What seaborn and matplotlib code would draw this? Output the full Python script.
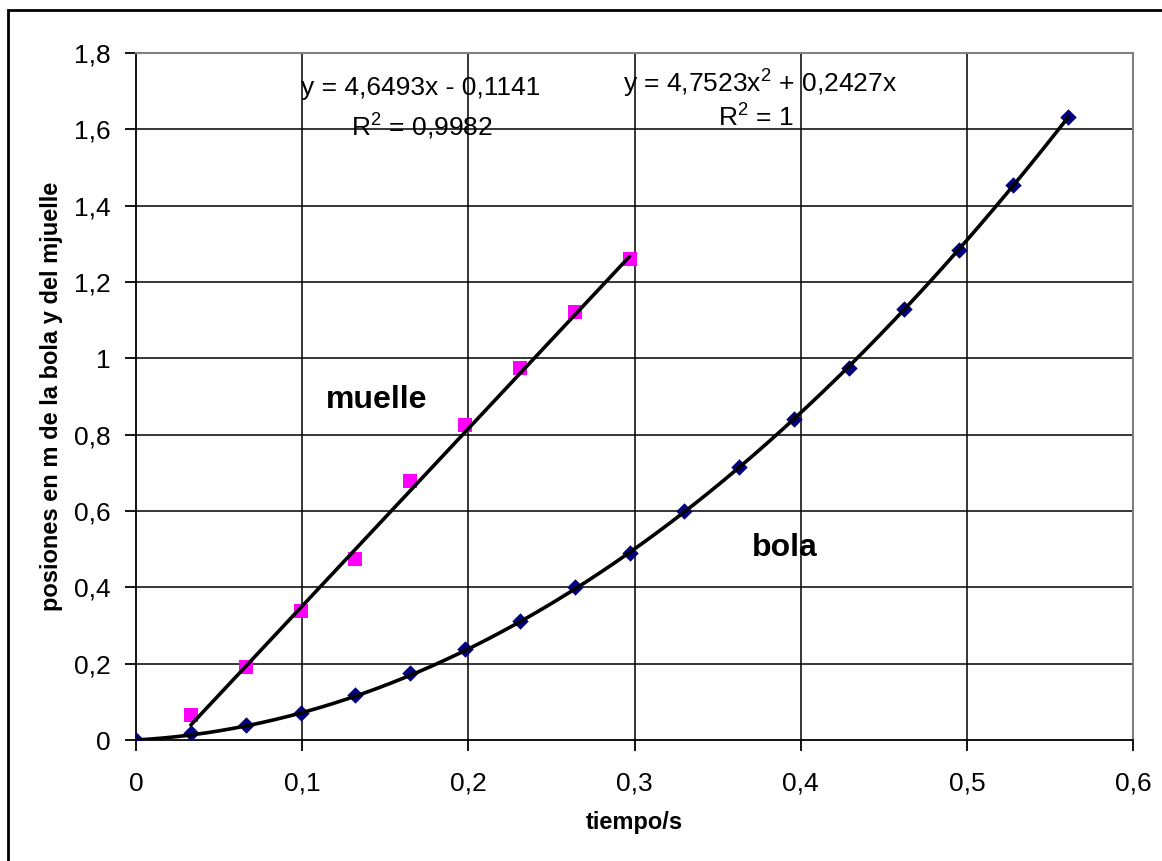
import numpy as np
import pandas as pd
import matplotlib
matplotlib.use("Agg")
import matplotlib.pyplot as plt
import seaborn as sns
from matplotlib.patches import Rectangle

# ---- data ----
t_bola = [0.0, 0.033, 0.066, 0.099, 0.132, 0.165, 0.198, 0.231, 0.264, 0.297,
          0.330, 0.363, 0.396, 0.429, 0.462, 0.495, 0.528, 0.561]
y_bola = [0.0, 0.018, 0.040, 0.070, 0.117, 0.175, 0.238, 0.312, 0.400, 0.490,
          0.600, 0.715, 0.840, 0.975, 1.128, 1.285, 1.455, 1.632]
t_muelle = [0.033, 0.066, 0.099, 0.132, 0.165, 0.198, 0.231, 0.264, 0.297]
y_muelle = [0.065, 0.190, 0.338, 0.474, 0.679, 0.825, 0.975, 1.122, 1.260]
lin_coef = [4.6493, -0.1141]          # muelle trendline
poly_coef = [4.7523, 0.2427, 0.0]     # bola trendline
x_ticks = [0, 0.1, 0.2, 0.3, 0.4, 0.5, 0.6]
x_tick_labels = ["0", "0,1", "0,2", "0,3", "0,4", "0,5", "0,6"]
y_ticks = [0, 0.2, 0.4, 0.6, 0.8, 1.0, 1.2, 1.4, 1.6, 1.8]
y_tick_labels = ["0", "0,2", "0,4", "0,6", "0,8", "1", "1,2", "1,4", "1,6", "1,8"]

sns.set_style("white")
plt.rcParams['font.family'] = ['Liberation Sans', 'DejaVu Sans']
plt.rcParams['text.color'] = 'black'
plt.rcParams['axes.labelcolor'] = 'black'
plt.rcParams['xtick.color'] = 'black'
plt.rcParams['ytick.color'] = 'black'
plt.rcParams['mathtext.fontset'] = 'custom'
plt.rcParams['mathtext.rm'] = 'Liberation Sans'

fig = plt.figure(figsize=(11.62, 8.61), dpi=100)
ax = fig.add_axes([136/1162, 1-740/861, (1133-136)/1162, (740-53)/861])

# gridlines
for yt in y_ticks[1:-1]:
    ax.axhline(yt, color="black", lw=1.1, zorder=1)
for xt in x_ticks[1:-1]:
    ax.axvline(xt, color="black", lw=1.1, zorder=1)

df_b = pd.DataFrame({"t": t_bola, "y": y_bola})
df_m = pd.DataFrame({"t": t_muelle, "y": y_muelle})
sns.scatterplot(data=df_b, x="t", y="y", marker="D", s=70, color="#000080",
                edgecolor="#000080", linewidth=0, ax=ax, zorder=3)
sns.scatterplot(data=df_m, x="t", y="y", marker="s", s=110, color="#FF00FF",
                edgecolor="#FF00FF", linewidth=0, ax=ax, zorder=3)

# trendlines from the displayed equations
xl = np.array([t_muelle[0], t_muelle[-1]])
sns.lineplot(x=xl, y=np.polyval(lin_coef, xl), color="black", lw=2.6, ax=ax, zorder=4)
xp = np.linspace(t_bola[0], t_bola[-1], 200)
sns.lineplot(x=xp, y=np.polyval(poly_coef, xp), color="black", lw=2.6, ax=ax, zorder=4)

ax.set_xlim(0, 0.6)
ax.set_ylim(0, 1.8)
ax.set_xticks(x_ticks)
ax.set_xticklabels(x_tick_labels, fontsize=19)
ax.set_yticks(y_ticks)
ax.set_yticklabels(y_tick_labels, fontsize=19)
ax.tick_params(axis="x", direction="out", length=8, width=1.3, color="black", pad=15, bottom=True)
ax.tick_params(axis="y", direction="out", length=8, width=1.3, color="black", pad=10, left=True)

for side in ["left", "bottom"]:
    ax.spines[side].set_color("black")
    ax.spines[side].set_linewidth(1.3)
for side in ["top", "right"]:
    ax.spines[side].set_color("#808080")
    ax.spines[side].set_linewidth(1.5)

ax.set_xlabel("tiempo/s", fontsize=17, fontweight="bold", labelpad=11)
ax.set_ylabel("posiones en m de la bola y del mjuelle", fontsize=17,
              fontweight="bold", labelpad=8)

ax.text(0.171, 1.708, "y = 4,6493x - 0,1141", fontsize=19, ha="center", va="center")
ax.text(0.172, 1.611, "R$^2$ = 0,9982", fontsize=19, ha="center", va="center")
ax.text(0.3755, 1.722, "y = 4,7523x$^2$ + 0,2427x", fontsize=19, ha="center", va="center")
ax.text(0.373, 1.633, "R$^2$ = 1", fontsize=19, ha="center", va="center")
ax.text(0.145, 0.89, "muelle", fontsize=23, fontweight="bold", ha="center", va="center")
ax.text(0.3905, 0.503, "bola", fontsize=23, fontweight="bold", ha="center", va="center")

# outer chart border (left/top visible)
fig.patches.append(Rectangle((8/1162, -0.05), 1.2, 1-10/861+0.05, transform=fig.transFigure,
                             fill=False, edgecolor="black", lw=2, zorder=0))

fig.savefig("out.png", dpi=100)
